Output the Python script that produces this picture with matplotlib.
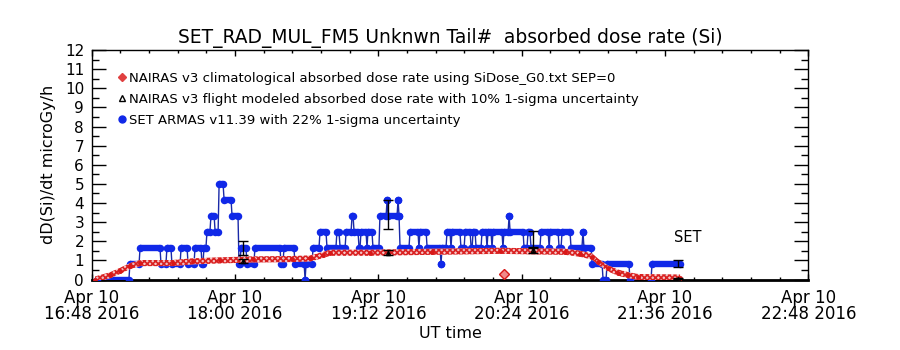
import matplotlib
matplotlib.use('Agg')
import matplotlib.pyplot as plt
import matplotlib.dates as mdates
from matplotlib.lines import Line2D
from matplotlib.ticker import FixedLocator
from datetime import datetime, timedelta

# ---------------- data (minutes after 2016-04-10 16:48 UT) ----------------
t_start_str = "2016-04-10 16:48"
t_end_str = "2016-04-10 22:48"
major_tick_minutes = [0, 72, 144, 216, 288, 360]
minor_step_minutes = 14.4

# SET ARMAS segments (start min, end min, dose rate)
set_start = [2.7, 19.2, 24.3, 34.8, 37.8, 40.3, 44.9, 48.4, 51.9, 55.4, 56.4, 57.9,
             59.9, 62.0, 64.0, 66.5, 70.5, 74.0, 75.0, 78.0, 82.0, 95.1, 96.6, 102.1,
             107.2, 107.7, 111.2, 114.7, 118.2, 123.2, 124.8, 127.8, 130.8, 131.8,
             134.3, 135.3, 138.3, 138.8, 141.3, 144.8, 148.4, 148.9, 153.9, 154.4,
             154.9, 159.9, 164.4, 164.9, 168.5, 175.5, 176.0, 178.5, 180.5, 181.0,
             185.5, 187.6, 190.6, 191.6, 193.1, 196.1, 198.6, 199.1, 201.1, 201.6,
             206.6, 207.1, 209.7, 210.2, 217.2, 219.2, 220.7, 225.7, 229.8, 230.3,
             234.8, 236.3, 240.8, 246.8, 247.3, 251.4, 256.9, 258.9, 270.4, 281.5]
set_end = [18.7, 23.8, 34.3, 37.3, 39.8, 44.4, 47.9, 51.4, 54.9, 55.9, 57.4, 59.4,
           61.5, 63.5, 66.0, 70.0, 73.5, 74.5, 77.5, 81.5, 94.6, 96.1, 101.6, 106.7,
           107.2, 110.7, 114.2, 117.7, 122.7, 124.2, 127.3, 130.3, 131.3, 133.8,
           134.8, 137.8, 138.3, 140.8, 144.3, 147.9, 148.4, 153.4, 153.9, 154.4,
           159.4, 163.9, 164.4, 168.0, 175.0, 175.5, 178.0, 180.0, 180.5, 185.0,
           187.1, 190.1, 191.1, 192.6, 195.6, 198.1, 198.6, 200.6, 201.1, 206.1,
           206.6, 209.2, 209.7, 216.7, 218.7, 220.2, 225.2, 229.3, 229.8, 234.3,
           235.8, 240.3, 246.3, 246.8, 250.9, 256.4, 258.4, 269.9, 281.0, 295.6]
set_level = [0, 0.83, 1.67, 0.83, 1.67, 0.83, 1.67, 0.83, 1.67, 0.83, 1.67, 2.5,
             3.33, 2.5, 5.0, 4.17, 3.33, 0.83, 1.67, 0.83, 1.67, 0.83, 1.67, 0.83,
             0, 0.83, 1.67, 2.5, 1.67, 2.5, 1.67, 2.5, 3.33, 2.5,
             1.67, 2.5, 1.67, 2.5, 1.67, 3.33, 4.17, 3.33, 4.17, 3.33,
             1.67, 2.5, 1.67, 2.5, 1.67, 0.83, 1.67, 2.5, 1.67, 2.5,
             1.67, 2.5, 1.67, 2.5, 1.67, 2.5, 1.67, 2.5, 1.67, 2.5,
             1.67, 2.5, 3.33, 2.5, 1.67, 2.5, 1.67, 2.5, 1.67, 2.5,
             1.67, 2.5, 1.67, 2.5, 1.67, 0.83, 0, 0.83, 0, 0.83]

# NAIRAS climatological dose rate
clim_min = [1.7, 9.2, 14.2, 19.2, 24.3, 40.8, 50.9, 64.5, 81.0, 100.6, 109.7, 116.2,
            119.7, 139.8, 171.0, 205.1, 237.8, 245.3, 251.4, 254.4, 259.4, 264.4,
            269.4, 274.4, 295.6]
clim_val = [0.0, 0.22, 0.45, 0.7, 0.86, 0.86, 0.95, 1.0, 1.05, 1.07, 1.1, 1.28,
            1.4, 1.4, 1.45, 1.5, 1.45, 1.35, 1.2, 0.93, 0.58, 0.36, 0.23, 0.13, 0.1]
clim_odd_min = [207.1]
clim_odd_val = [0.29]

# error-bar points
err_min = [76.0, 148.9, 221.7, 294.6]
set_err_val = [1.67, 3.4, 2.1, 0.83]
nairas_flight_val = [0.98, 1.41, 1.53, 0.05]
set_unc = 0.22
nairas_unc = 0.10

set_label_min = 292.5
set_label_val = 2.2

title = "SET_RAD_MUL_FM5 Unknwn Tail#  absorbed dose rate (Si)"
ylabel = "dD(Si)/dt microGy/h"
xlabel = "UT time"
legend_labels = ["NAIRAS v3 climatological absorbed dose rate using SiDose_G0.txt SEP=0",
                 "NAIRAS v3 flight modeled absorbed dose rate with 10% 1-sigma uncertainty",
                 "SET ARMAS v11.39 with 22% 1-sigma uncertainty"]

# ---------------- helpers ----------------
t0 = datetime.strptime(t_start_str, "%Y-%m-%d %H:%M")
t1 = datetime.strptime(t_end_str, "%Y-%m-%d %H:%M")


def tm(m):
    return mdates.date2num(t0 + timedelta(minutes=m))


BLUE = '#1028e8'
BLUE_LINE = '#1a2aa8'
RED = '#d81818'

plt.rcParams['font.family'] = ['DejaVu Sans']
plt.rcParams['hatch.linewidth'] = 1.2

fig = plt.figure(figsize=(9, 3.5), dpi=100)
ax = fig.add_axes([0.1019, 0.2014, 0.7962, 0.6557])

# SET thin connecting line
line_x, line_y = [], []
for s, e, v in zip(set_start, set_end, set_level):
    line_x += [tm(s), tm(e)]
    line_y += [v, v]
ax.plot(line_x, line_y, color=BLUE_LINE, lw=1.0, zorder=3)
# SET thick sample bars
for s, e, v in zip(set_start, set_end, set_level):
    ax.plot([tm(s), tm(e)], [v, v], color=BLUE, lw=4.6, solid_capstyle='butt', zorder=4)
ax.plot([tm(s) for s in set_start], set_level, 'o', color=BLUE, ms=5.4, mew=0, zorder=4)
ax.plot([tm(e) for e in set_end], set_level, 'o', color=BLUE, ms=5.4, mew=0, zorder=4)

# climatological band (hatched) + dots
cx = [tm(m) for m in clim_min]
lo = [v - 0.16 for v in clim_val]
hi = [v + 0.16 for v in clim_val]
ax.fill_between(cx, lo, hi, facecolor='#f6c4c4', edgecolor=RED, hatch='xxxxxx',
                linewidth=0, alpha=0.95, zorder=5)
ax.plot(cx, clim_val, 'o', color=RED, ms=3.5, mew=0, zorder=6)
ax.plot([tm(m) for m in clim_odd_min], clim_odd_val, 'D', mfc='#f08a8a', mec=RED,
        ms=5.5, mew=1, zorder=6)

# error bars
ex = [tm(m) for m in err_min]
ax.errorbar(ex, set_err_val, yerr=[v * set_unc for v in set_err_val], fmt='none',
            ecolor='black', elinewidth=1, capsize=3.5, capthick=1, zorder=7)
ax.errorbar(ex, nairas_flight_val, yerr=[v * nairas_unc for v in nairas_flight_val],
            fmt='^', color='black', ms=3, mfc='none', elinewidth=1, capsize=3.5,
            capthick=1, zorder=7)

ax.text(tm(set_label_min), set_label_val, "SET", fontsize=10.5, va='center', ha='left')

# axes
ax.set_xlim(tm(0), mdates.date2num(t1))
ax.set_ylim(0, 12)
ax.xaxis.set_major_locator(FixedLocator([tm(m) for m in major_tick_minutes]))
n_minor = int(round(360 / minor_step_minutes))
ax.xaxis.set_minor_locator(FixedLocator([tm(i * minor_step_minutes) for i in range(n_minor + 1)]))
ax.xaxis.set_major_formatter(mdates.DateFormatter('%b %d\n%H:%M %Y'))
ax.yaxis.set_major_locator(FixedLocator(list(range(0, 13))))
ax.yaxis.set_minor_locator(FixedLocator([i + 0.5 for i in range(12)]))

ax.tick_params(axis='x', which='major', direction='in', length=4.5, width=1,
               top=True, bottom=True, labelsize=12, pad=7)
ax.tick_params(axis='x', which='minor', direction='in', length=2.3, width=1,
               top=True, bottom=True)
ax.tick_params(axis='y', which='major', direction='in', length=10, width=1,
               left=True, right=True, labelsize=11, pad=5.5)
ax.tick_params(axis='y', which='minor', direction='in', length=5, width=1,
               left=True, right=True)
for lab in ax.get_xticklabels():
    lab.set_linespacing(0.85)
for sp in ax.spines.values():
    sp.set_linewidth(1)
    sp.set_color('black')
ax.spines['bottom'].set_linewidth(2)

ax.set_title(title, fontsize=13.4, pad=5)
ax.set_ylabel(ylabel, fontsize=11.5, labelpad=6)
ax.set_xlabel(xlabel, fontsize=11.5, labelpad=2)

handles = [Line2D([], [], ls='none', marker='D', color='#e04040', ms=4.5),
           Line2D([], [], ls='none', marker='^', color='black', mfc='none', ms=5),
           Line2D([], [], ls='none', marker='o', color=BLUE, ms=5)]
ax.legend(handles, legend_labels, loc='upper left', bbox_to_anchor=(0.036, 0.905),
          frameon=False, fontsize=9.5, handlelength=0.7, handletextpad=0.15,
          labelspacing=0.6, borderpad=0, borderaxespad=0)

fig.savefig('out.png', dpi=100)
